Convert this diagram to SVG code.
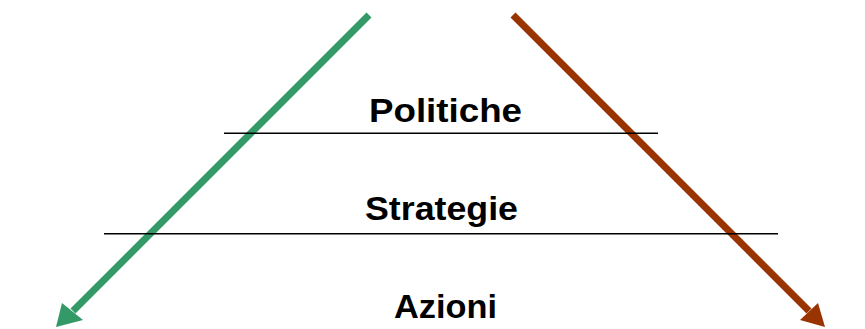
<svg xmlns="http://www.w3.org/2000/svg" width="865" height="329" viewBox="0 0 865 329">
  <style>
    .lbl { font-family: "Liberation Sans", Arial, sans-serif; font-weight: bold; font-size: 34px; fill: #000; }
    .rule { stroke: #000; stroke-width: 1.5; fill: none; }
    .shaft { fill: none; stroke-width: 7; stroke-linecap: butt; }
  </style>
  <rect width="865" height="329" fill="#fff"/>
  <g id="connectors">
    <g id="arrow-green">
      <line class="shaft" x1="369" y1="15" x2="73" y2="311" stroke="#339966"/>
      <polygon points="56,327 62,303 83,320" fill="#339966"/>
    </g>
    <g id="arrow-brown">
      <line class="shaft" x1="513" y1="15" x2="809" y2="311" stroke="#993300"/>
      <polygon points="825,327 800,320 818,303" fill="#993300"/>
    </g>
  </g>
  <g id="rules">
    <line class="rule" x1="224" y1="133.3" x2="658" y2="133.3"/>
    <line class="rule" x1="104" y1="233.8" x2="778" y2="233.8"/>
  </g>
  <g id="node-politiche">
    <text class="lbl" x="369" y="122" textLength="153" lengthAdjust="spacingAndGlyphs">Politiche</text>
  </g>
  <g id="node-strategie">
    <text class="lbl" x="365" y="220" textLength="153" lengthAdjust="spacingAndGlyphs">Strategie</text>
  </g>
  <g id="node-azioni">
    <text class="lbl" x="394" y="318" textLength="103" lengthAdjust="spacingAndGlyphs">Azioni</text>
  </g>
</svg>
